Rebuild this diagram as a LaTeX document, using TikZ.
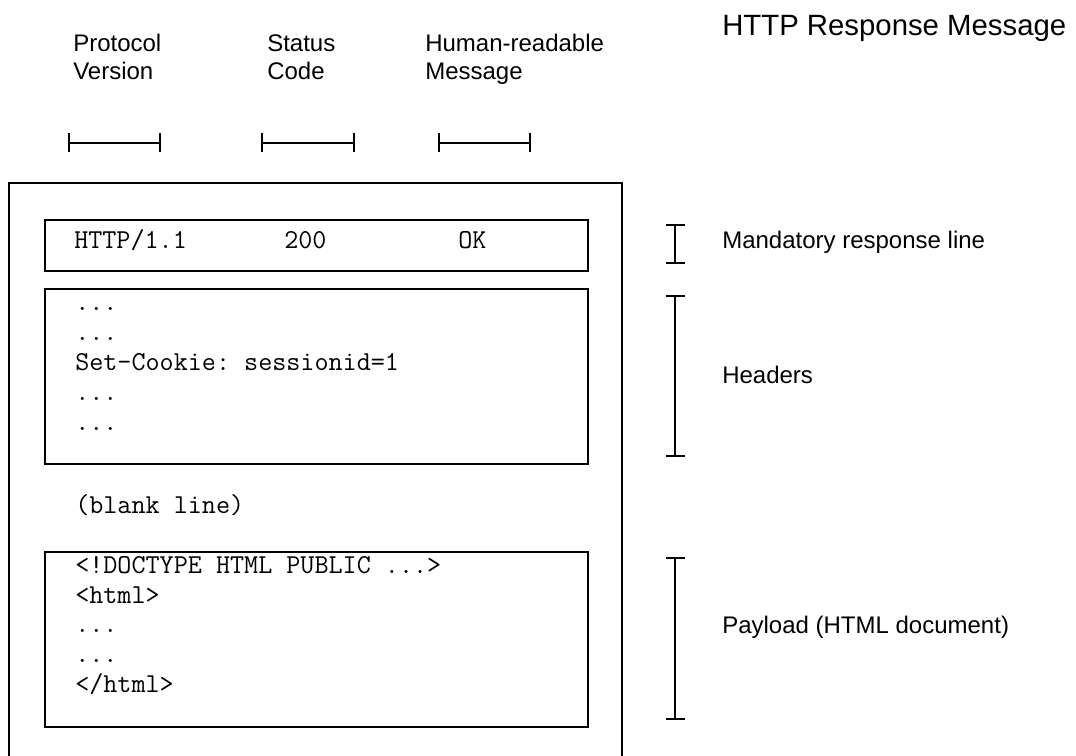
\documentclass[tikz,border=0pt]{standalone}
\usepackage{fontspec}
\setmainfont{Liberation Sans}
\usetikzlibrary{arrows.meta}
\frenchspacing
\begin{document}
\begin{tikzpicture}[x=0.75pt,y=-0.75pt,
  box/.style={draw,line width=1.4pt,anchor=north west,inner sep=0pt,minimum width=543*0.75pt},
  mono/.style={font=\fontsize{20.5}{24}\selectfont\ttfamily\frenchspacing,anchor=base west,inner sep=0pt},
  lbl/.style={font=\fontsize{18}{22}\selectfont,anchor=base west,inner sep=0pt},
  dimline/.style={line width=1.4pt,{Bar[width=14.25pt]}-{Bar[width=14.25pt]}}]
\useasboundingbox (0,0) rectangle (1076,756);

% title and column labels
\node[font=\fontsize{22}{26}\selectfont,anchor=base west,inner sep=0pt] (title) at (722,36) {HTTP Response Message};
\node[lbl] (pv1) at (73,52) {Protocol};
\node[lbl] (pv2) at (73,80) {Version};
\node[lbl] (sc1) at (267,52) {Status};
\node[lbl] (sc2) at (267,80) {Code};
\node[lbl] (hm1) at (425,52) {Human-readable};
\node[lbl] (hm2) at (425,80) {Message};

% column spans
\coordinate (a1) at (68,143); \coordinate (a2) at (161,143);
\coordinate (b1) at (261,143); \coordinate (b2) at (355,143);
\coordinate (c1) at (438,143); \coordinate (c2) at (531,143);
\draw[dimline] (a1) -- (a2);
\draw[dimline] (b1) -- (b2);
\draw[dimline] (c1) -- (c2);

% outer message frame (open at the bottom)
\draw[line width=1.4pt] (9,757) -- (9,183) -- (622,183) -- (622,757);

% inner boxes
\node[box,minimum height=51*0.75pt] (line) at (44,219) {};
\node[box,minimum height=175*0.75pt] (hdr) at (44,288) {};
\node[box,minimum height=175*0.75pt] (pay) at (44,551) {};

% response line
\node[mono] (t1) at (74,249) {HTTP/1.1};
\node[mono] (t2) at (284,249) {200};
\node[mono] (t3) at (458,249) {OK};

% headers
\node[mono] (h1) at (75,311) {...};
\node[mono] (h2) at (75,341) {...};
\node[mono] (h3) at (75,371) {Set-Cookie: sessionid=1};
\node[mono] (h4) at (75,401) {...};
\node[mono] (h5) at (75,431) {...};

\node[mono] (blank) at (75,513) {(blank line)};

% payload
\node[mono] (p1) at (75,573) {<!DOCTYPE HTML PUBLIC ...>};
\node[mono] (p2) at (75,603) {<html>};
\node[mono] (p3) at (75,632) {...};
\node[mono] (p4) at (75,662) {...};
\node[mono] (p5) at (75,692) {</html>};

% right-hand spans
\coordinate (r1a) at (675,224); \coordinate (r1b) at (675,264);
\coordinate (r2a) at (675,295); \coordinate (r2b) at (675,457);
\coordinate (r3a) at (675,557); \coordinate (r3b) at (675,720);
\draw[dimline] (r1a) -- (r1b);
\draw[dimline] (r2a) -- (r2b);
\draw[dimline] (r3a) -- (r3b);

\node[lbl] (l1) at (722,249) {Mandatory response line};
\node[lbl] (l2) at (722,383) {Headers};
\node[lbl] (l3) at (722,633) {Payload (HTML document)};
\end{tikzpicture}
\end{document}
